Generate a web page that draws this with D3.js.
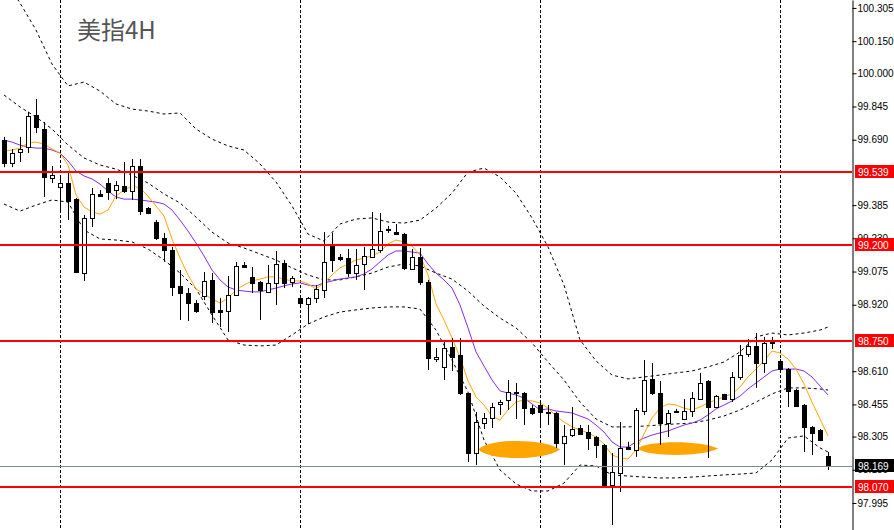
<!DOCTYPE html>
<html><head><meta charset="utf-8">
<script src="https://cdn.jsdelivr.net/npm/d3@7"></script>
<style>html,body{margin:0;padding:0;background:#fff;overflow:hidden}</style>
</head><body><svg id="c" width="894" height="530"></svg>
<script>
const title = "美指4H";
const opens  = [99.689,99.581,99.633,99.656,99.806,99.740,99.511,99.469,99.488,99.413,99.068,99.324,99.437,99.488,99.455,99.474,99.451,99.567,99.371,99.306,99.231,99.176,99.008,98.975,98.928,98.961,99.036,98.896,98.891,98.965,99.106,99.050,99.026,98.980,99.022,99.115,99.026,98.951,98.923,98.951,98.989,99.199,99.143,99.138,99.068,99.110,99.143,99.176,99.273,99.259,99.250,99.087,99.143,99.026,98.667,98.630,98.723,98.686,98.508,98.228,98.368,98.392,98.457,98.476,98.513,98.508,98.438,98.452,98.420,98.415,98.275,98.312,98.345,98.326,98.303,98.266,98.079,98.135,98.256,98.242,98.424,98.574,98.508,98.368,98.424,98.387,98.424,98.480,98.564,98.443,98.504,98.480,98.583,98.690,98.728,98.648,98.751,98.658,98.620,98.522,98.452,98.350,98.336,98.214];
const highs  = [99.703,99.647,99.703,99.820,99.880,99.773,99.567,99.525,99.535,99.418,99.339,99.465,99.455,99.511,99.497,99.586,99.600,99.600,99.376,99.315,99.255,99.190,99.082,98.998,98.942,99.073,99.068,98.951,99.054,99.120,99.120,99.096,99.031,99.106,99.171,99.129,99.054,98.956,98.956,99.012,99.259,99.255,99.157,99.180,99.180,99.190,99.353,99.348,99.287,99.297,99.255,99.180,99.185,99.036,98.718,98.746,98.765,98.765,98.508,98.420,98.415,98.462,98.476,98.569,98.555,98.513,98.452,98.466,98.452,98.420,98.359,98.443,98.359,98.359,98.308,98.270,98.228,98.373,98.280,98.438,98.662,98.648,98.564,98.429,98.434,98.480,98.513,98.602,98.569,98.499,98.504,98.606,98.732,98.760,98.788,98.770,98.770,98.667,98.625,98.527,98.457,98.354,98.340,98.233];
const lows   = [99.562,99.562,99.586,99.628,99.721,99.423,99.488,99.348,99.315,99.068,99.031,99.283,99.423,99.409,99.413,99.441,99.409,99.339,99.343,99.222,99.120,98.961,98.849,98.844,98.882,98.942,98.835,98.816,98.793,98.961,99.092,98.975,98.849,98.975,98.919,98.998,99.003,98.919,98.830,98.928,98.951,99.073,99.124,99.050,99.036,98.989,99.138,99.162,99.255,99.245,99.082,99.082,99.012,98.616,98.653,98.569,98.611,98.499,98.186,98.172,98.340,98.345,98.406,98.429,98.387,98.359,98.406,98.350,98.359,98.252,98.172,98.303,98.312,98.242,98.205,98.074,97.892,98.046,98.242,98.210,98.406,98.499,98.266,98.303,98.415,98.382,98.396,98.476,98.205,98.438,98.476,98.466,98.569,98.676,98.532,98.602,98.714,98.616,98.443,98.443,98.233,98.219,98.284,98.149];
const closes = [99.581,99.628,99.647,99.801,99.749,99.516,99.525,99.488,99.404,99.073,99.324,99.437,99.427,99.446,99.479,99.451,99.567,99.357,99.348,99.231,99.176,99.003,98.975,98.928,98.891,99.031,98.886,98.886,98.965,99.101,99.096,99.022,98.989,99.022,99.110,99.022,99.045,98.928,98.951,98.993,99.120,99.129,99.134,99.068,99.106,99.148,99.180,99.264,99.269,99.250,99.092,99.143,99.026,98.672,98.676,98.718,98.676,98.508,98.228,98.373,98.392,98.443,98.466,98.513,98.508,98.438,98.415,98.420,98.415,98.275,98.308,98.340,98.317,98.298,98.266,98.079,98.140,98.252,98.247,98.429,98.569,98.508,98.368,98.415,98.420,98.424,98.485,98.555,98.443,98.494,98.480,98.583,98.686,98.728,98.648,98.742,98.742,98.620,98.518,98.448,98.350,98.322,98.289,98.169];

const maFast = [99.637,99.642,99.651,99.675,99.679,99.670,99.647,99.628,99.572,99.432,99.376,99.353,99.343,99.362,99.427,99.455,99.474,99.465,99.427,99.381,99.334,99.227,99.138,99.059,98.994,98.970,98.947,98.928,98.951,98.989,99.012,99.031,99.040,99.050,99.050,99.040,99.031,99.031,99.017,98.994,99.022,99.059,99.092,99.110,99.129,99.138,99.148,99.166,99.204,99.222,99.213,99.194,99.152,99.059,98.924,98.849,98.765,98.676,98.564,98.490,98.452,98.401,98.382,98.429,98.466,98.476,98.471,98.462,98.438,98.401,98.373,98.350,98.336,98.322,98.303,98.270,98.219,98.205,98.200,98.242,98.317,98.392,98.438,98.457,98.452,98.438,98.429,98.443,98.462,98.476,98.490,98.504,98.536,98.583,98.620,98.658,98.704,98.695,98.667,98.620,98.550,98.466,98.387,98.308];
const maSlow = [99.689,99.679,99.665,99.656,99.651,99.651,99.642,99.628,99.591,99.544,99.521,99.507,99.483,99.451,99.423,99.413,99.413,99.409,99.404,99.399,99.390,99.362,99.315,99.264,99.208,99.148,99.082,99.036,99.003,98.989,98.984,98.980,98.980,98.989,98.998,99.008,99.017,99.022,99.012,99.008,99.022,99.031,99.040,99.045,99.050,99.064,99.087,99.120,99.152,99.171,99.171,99.166,99.161,99.110,99.068,99.036,98.998,98.919,98.812,98.700,98.634,98.569,98.518,98.508,98.499,98.485,98.457,98.429,98.434,98.424,98.420,98.415,98.401,98.387,98.359,98.326,98.280,98.256,98.256,98.280,98.298,98.312,98.322,98.331,98.345,98.359,98.368,98.382,98.406,98.434,98.452,98.471,98.494,98.527,98.555,98.583,98.611,98.620,98.620,98.620,98.611,98.583,98.541,98.499];

const bandIdx = [0,2,4,6,8,10,12,14,16,18,20,22,24,26,28,30,32,34,36,38,40,42,44,46,48,50,52,54,56,58,60,62,64,66,68,70,72,74,76,78,80,82,84,86,88,90,92,94,96,98,100,102,103];
const bbUpper  = [100.440,100.328,100.202,100.043,99.941,99.959,99.917,99.857,99.833,99.824,99.810,99.815,99.740,99.693,99.661,99.642,99.577,99.493,99.381,99.250,99.217,99.297,99.320,99.325,99.306,99.301,99.315,99.371,99.441,99.539,99.558,99.516,99.441,99.325,99.190,99.012,98.756,98.658,98.592,98.574,98.583,98.592,98.602,98.611,98.630,98.653,98.700,98.770,98.788,98.779,98.788,98.802,98.816];
const bbMiddle = [99.899,99.843,99.796,99.740,99.665,99.605,99.572,99.553,99.525,99.488,99.437,99.395,99.329,99.259,99.208,99.185,99.157,99.129,99.092,99.059,99.036,99.036,99.050,99.068,99.096,99.110,99.101,99.068,99.040,98.984,98.914,98.858,98.812,98.742,98.653,98.569,98.466,98.387,98.350,98.350,98.354,98.359,98.364,98.368,98.382,98.401,98.429,98.466,98.504,98.532,98.532,98.527,98.522];
const bbLower  = [99.390,99.357,99.385,99.409,99.399,99.269,99.227,99.222,99.213,99.180,99.129,99.068,98.994,98.872,98.756,98.732,98.728,98.732,98.779,98.830,98.863,98.886,98.896,98.905,98.910,98.910,98.900,98.802,98.662,98.513,98.289,98.149,98.084,98.051,98.051,98.088,98.172,98.168,98.126,98.121,98.116,98.112,98.112,98.116,98.121,98.126,98.130,98.135,98.196,98.298,98.308,98.252,98.233];

const levels = [99.539, 99.200, 98.750, 98.070];
const lastPrice = 98.169;
const tickValues = [100.305,100.150,100.000,99.845,99.690,99.385,99.230,99.075,98.920,98.610,98.455,98.305,98.150,97.995];
const gridIdx = [7, 37, 67, 97];
const blobIdx = [64.4, 84.2];
const blobPrice = [98.245, 98.249];
const blobHalfWidth = [5.1, 5.06];
const blobHalfHeight = [0.040, 0.030];

const W = 894, H = 530, axisX = 852;
const x = d3.scaleLinear().domain([0, 103]).range([4, 828]);
const y = d3.scaleLinear().domain([97.869, 100.342]).range([530, 0]);
const svg = d3.select('#c');
const px = v => Math.round(x(v)) + 0.5;

svg.append('defs').append('clipPath').attr('id', 'plot')
  .append('rect').attr('x', 0).attr('y', 0).attr('width', axisX).attr('height', H);
const g = svg.append('g').attr('clip-path', 'url(#plot)');

// grid
g.selectAll('.grid').data(gridIdx).join('line')
  .attr('x1', d => px(d)).attr('x2', d => px(d)).attr('y1', 0).attr('y2', H)
  .attr('stroke', '#000').attr('stroke-width', 1).attr('stroke-dasharray', '3,2');

// bollinger bands
[bbUpper, bbMiddle, bbLower].forEach(arr => {
  g.append('path').datum(arr)
    .attr('d', d3.line().x((d, i) => x(bandIdx[i])).y(d => y(d)))
    .attr('fill', 'none').attr('stroke', '#000').attr('stroke-width', 1).attr('stroke-dasharray', '3,3');
});

// blobs (lens-shaped highlight strokes)
const lens = (i) => {
  const cx = x(blobIdx[i]), cy = y(blobPrice[i]);
  const rx = x(blobHalfWidth[i]) - x(0), ry = y(0) - y(blobHalfHeight[i]);
  const p = d3.path();
  p.moveTo(cx - rx, cy);
  p.bezierCurveTo(cx - rx * 0.75, cy - ry * 1.3, cx + rx * 0.6, cy - ry * 1.35, cx + rx, cy);
  p.bezierCurveTo(cx + rx * 0.6, cy + ry * 1.35, cx - rx * 0.75, cy + ry * 1.3, cx - rx, cy);
  p.closePath();
  return p.toString();
};
g.selectAll('.blob').data(blobIdx).join('path')
  .attr('d', (d, i) => lens(i))
  .attr('fill', '#FFA500');

// moving averages
g.append('path').datum(maSlow)
  .attr('d', d3.line().x((d, i) => x(i)).y(d => y(d)))
  .attr('fill', 'none').attr('stroke', '#8A2BE2').attr('stroke-width', 1);
g.append('path').datum(maFast)
  .attr('d', d3.line().x((d, i) => x(i)).y(d => y(d)))
  .attr('fill', 'none').attr('stroke', '#FFA500').attr('stroke-width', 1);

// candles
const idx = d3.range(opens.length);
const cg = g.append('g');
cg.selectAll('.wick').data(idx).join('line')
  .attr('x1', i => px(i)).attr('x2', i => px(i))
  .attr('y1', i => y(highs[i])).attr('y2', i => y(lows[i]))
  .attr('stroke', '#000').attr('stroke-width', 1);
cg.selectAll('.body').data(idx).join('rect')
  .attr('x', i => Math.round(x(i)) - 2 + 0.5)
  .attr('width', 4)
  .attr('y', i => Math.round(y(Math.max(opens[i], closes[i]))) + 0.5)
  .attr('height', i => Math.max(0, Math.round(y(Math.min(opens[i], closes[i]))) - Math.round(y(Math.max(opens[i], closes[i])))))
  .attr('fill', i => closes[i] >= opens[i] ? '#fff' : '#000')
  .attr('stroke', '#000').attr('stroke-width', 1);

// levels
g.selectAll('.lvl').data(levels).join('line')
  .attr('x1', 0).attr('x2', axisX).attr('y1', d => Math.round(y(d))).attr('y2', d => Math.round(y(d)))
  .attr('stroke', '#ff0000').attr('stroke-width', 2);
g.append('line').attr('x1', 0).attr('x2', axisX)
  .attr('y1', Math.round(y(lastPrice)) + 0.5).attr('y2', Math.round(y(lastPrice)) + 0.5)
  .attr('stroke', '#7f8a96').attr('stroke-width', 1);

// title
svg.append('text').attr('x', 77).attr('y', 39).text(title)
  .attr('font-family', '"Noto Sans CJK SC", sans-serif').attr('font-size', 24).attr('fill', '#555');

// axis
const axis = d3.axisRight(y).tickValues(tickValues).tickFormat(d => d3.format('.3f')(d)).tickSize(4).tickSizeOuter(0);
const ag = svg.append('g').attr('transform', `translate(${axisX + 0.5},0)`).call(axis);
ag.select('.domain').attr('stroke', '#000');
ag.selectAll('text').attr('font-family', '"Liberation Sans", Arial, sans-serif').attr('font-size', 10).attr('fill', '#000').attr('x', 5);

// price labels
const labs = levels.map(v => ({v, bg: '#ff0000'})).concat([{v: lastPrice, bg: '#000'}]);
const lg = svg.append('g');
lg.selectAll('rect').data(labs).join('rect')
  .attr('x', axisX + 3).attr('y', d => Math.round(y(d.v)) - 7).attr('width', 39).attr('height', 13)
  .attr('fill', d => d.bg);
lg.selectAll('text').data(labs).join('text')
  .attr('x', axisX + 6).attr('y', d => Math.round(y(d.v))).attr('dy', '0.35em')
  .text(d => d3.format('.3f')(d.v))
  .attr('font-family', '"Liberation Sans", Arial, sans-serif').attr('font-size', 10).attr('fill', '#fff');
</script></body></html>
